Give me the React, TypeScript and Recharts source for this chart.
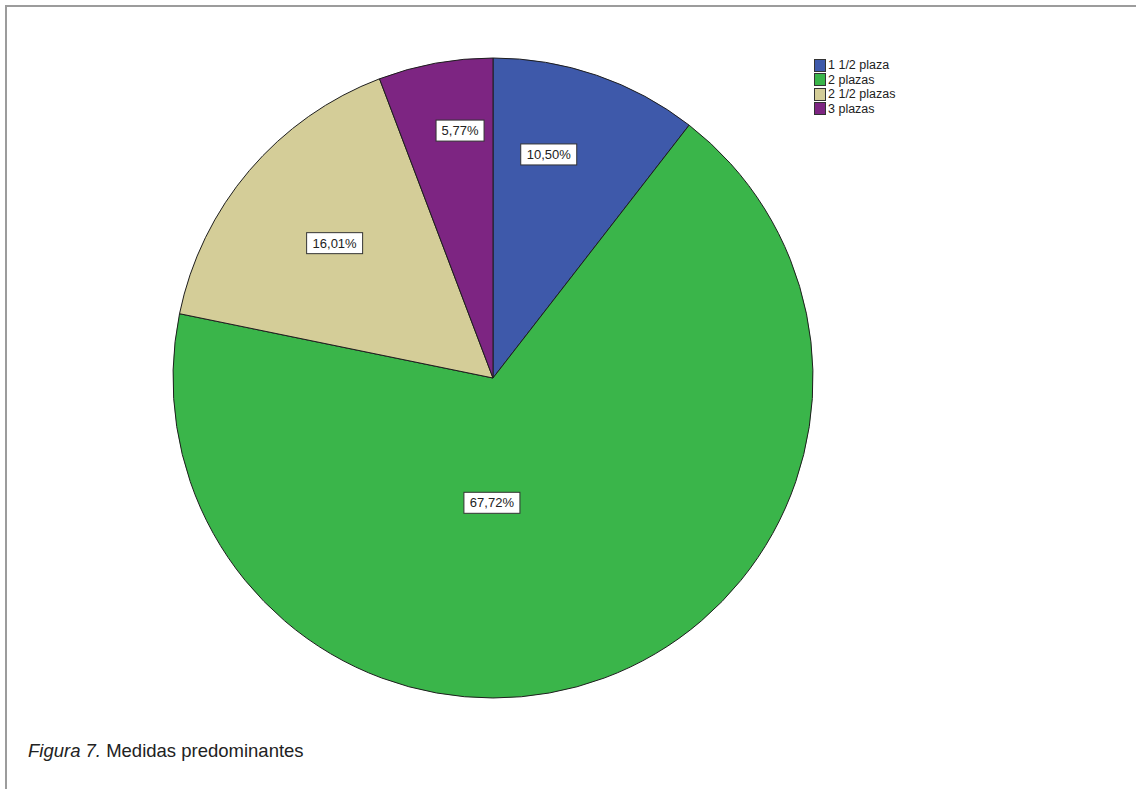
import React from "react";
import { PieChart, Pie, Cell, Legend } from "recharts";

// Share of each bed size, in percent
const categories = ["1 1/2 plaza", "2 plazas", "2 1/2 plazas", "3 plazas"];
const shares = [10.5, 67.72, 16.01, 5.77];
const sliceColors = ["#3e59aa", "#3ab54a", "#d4cd98", "#7d2582"];

// Where each percentage box sits: fraction of the radius and an angle nudge (degrees)
const labelRadius = [0.72, 0.39, 0.65, 0.78];
const labelAngleShift = [4.9, -20.8, 0, -2.8];

const data = categories.map((name, i) => ({ name, value: shares[i] }));

const RADIAN = Math.PI / 180;
const FONT = "Arial, 'Liberation Sans', sans-serif";

const formatPct = (v: number) => v.toFixed(2).replace(".", ",") + "%";

const renderLabel = (props: any) => {
  const { cx, cy, midAngle, outerRadius, index, value } = props;
  const ang = (midAngle + labelAngleShift[index]) * RADIAN;
  const r = outerRadius * labelRadius[index];
  const x = cx + r * Math.cos(ang);
  const y = cy - r * Math.sin(ang);
  const text = formatPct(value);
  const w = text.length * 8 + 8;
  const h = 21;
  return (
    <g>
      <rect x={x - w / 2} y={y - h / 2} width={w} height={h} fill="#ffffff" stroke="#333333" strokeWidth={1} />
      <text x={x} y={y + 1} textAnchor="middle" dominantBaseline="middle" fontSize={13} fontFamily={FONT} fill="#222222">
        {text}
      </text>
    </g>
  );
};

// Legend rows follow the slice order rather than alphabetical order
const renderLegend = (props: any) => {
  const payload = [...(props.payload || [])].sort(
    (a: any, b: any) => categories.indexOf(a.value) - categories.indexOf(b.value)
  );
  return (
    <div style={{ fontFamily: FONT, fontSize: 12.5, color: "#222" }}>
      {payload.map((entry: any, i: number) => (
        <div key={i} style={{ display: "flex", alignItems: "center", height: 14.5 }}>
          <span
            style={{
              display: "inline-block",
              width: 10,
              height: 11,
              background: entry.color,
              border: "1px solid #333",
              marginRight: 2,
            }}
          />
          <span>{entry.value}</span>
        </div>
      ))}
    </div>
  );
};

export default function App() {
  return (
    <div style={{ position: "fixed", left: 0, top: 0, width: 1136, height: 789, background: "#fff", overflow: "hidden" }}>
      <div
        style={{
          position: "absolute",
          left: 5,
          top: 5,
          width: 1200,
          height: 900,
          border: "2px solid #9c9c9c",
        }}
      />
      <div style={{ position: "absolute", left: 0, top: 0 }}>
        <PieChart width={1136} height={789} margin={{ top: 0, right: 0, bottom: 0, left: 0 }}>
          <Pie
            data={data}
            dataKey="value"
            nameKey="name"
            cx={493}
            cy={378}
            outerRadius={320}
            startAngle={90}
            endAngle={-270}
            stroke="#1e1e1e"
            strokeWidth={1}
            label={renderLabel}
            labelLine={false}
            isAnimationActive={false}
          >
            {data.map((d, i) => (
              <Cell key={d.name} fill={sliceColors[i]} />
            ))}
          </Pie>
          <Legend
            layout="vertical"
            verticalAlign="top"
            align="right"
            wrapperStyle={{ left: 814, top: 58, width: 120, right: "auto" }}
            content={renderLegend}
          />
        </PieChart>
      </div>
      <div
        style={{
          position: "absolute",
          left: 28,
          top: 740,
          fontFamily: FONT,
          fontSize: 18.5,
          color: "#222",
          whiteSpace: "nowrap",
        }}
      >
        <i>Figura 7.</i> Medidas predominantes
      </div>
    </div>
  );
}
